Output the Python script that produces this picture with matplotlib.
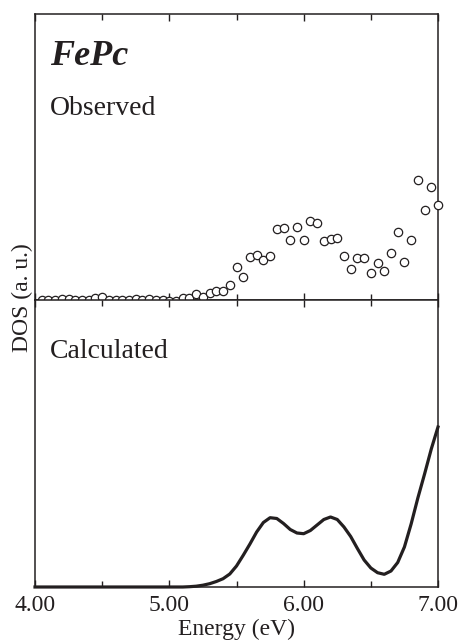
import matplotlib
matplotlib.use('Agg')
import matplotlib.pyplot as plt
import numpy as np
from matplotlib.ticker import MultipleLocator, FormatStrFormatter

plt.rcParams['font.family'] = 'Liberation Serif'

ink = '#231f20'

# observed DOS (open circles), 4.05 .. 7.00 eV in 0.05 eV steps
obs_energy = np.round(np.arange(4.05, 7.001, 0.05), 2)
obs_dos = [0.00, 0.00, 0.00, 0.01, 0.01, 0.00, 0.00, 0.00, 0.02, 0.03,
           0.00, 0.00, 0.00, 0.00, 0.01, 0.00, 0.01, 0.00, 0.00, -0.01,
           -0.01, 0.02, 0.02, 0.06, 0.03, 0.07, 0.09, 0.09, 0.15, 0.33,
           0.23, 0.43, 0.45, 0.40, 0.44, 0.71, 0.72, 0.60, 0.73, 0.60,
           0.79, 0.77, 0.59, 0.61, 0.62, 0.44, 0.31, 0.42, 0.42, 0.27,
           0.37, 0.29, 0.47, 0.68, 0.38, 0.60, 1.20, 0.90, 1.13, 0.95]

# calculated DOS (solid line), 4.00 .. 7.00 eV in 0.05 eV steps
calc_energy = np.round(np.arange(4.00, 7.001, 0.05), 2)
calc_dos = [0.0] * 23 + [0.003, 0.008, 0.018, 0.033, 0.055, 0.083, 0.13,
            0.21, 0.317, 0.43, 0.55, 0.645, 0.693, 0.685, 0.635, 0.575,
            0.54, 0.533, 0.565, 0.62, 0.675, 0.70, 0.675, 0.60, 0.505,
            0.385, 0.27, 0.19, 0.143, 0.127, 0.16, 0.245, 0.40, 0.63,
            0.89, 1.13, 1.38, 1.60]

fig = plt.figure(figsize=(4.6, 6.43), dpi=100)
ax1 = fig.add_axes([35/460, 1-300/643, 403/460, 286/643])
ax2 = fig.add_axes([35/460, 1-587/643, 403/460, 287/643])

ax1.plot(obs_energy, obs_dos, 'o', mfc='white', mec=ink, ms=6, mew=0.9,
         clip_on=False, zorder=5)
ax2.plot(calc_energy, calc_dos, '-', color=ink, lw=2.3, clip_on=False, zorder=5)

ax1.set_ylim(0, 2.86)
ax2.set_ylim(0, 2.87)

for ax in (ax1, ax2):
    ax.set_xlim(4.0, 7.0)
    ax.set_yticks([])
    ax.xaxis.set_major_locator(MultipleLocator(1.0))
    ax.xaxis.set_minor_locator(MultipleLocator(0.5))
    ax.xaxis.set_major_formatter(FormatStrFormatter('%.2f'))
    ax.tick_params(axis='x', which='both', direction='in', top=True, bottom=True,
                   color=ink, width=1, labelsize=17, labelcolor=ink, pad=6)
    ax.tick_params(axis='x', which='major', length=5)
    ax.tick_params(axis='x', which='minor', length=4)
    for s in ax.spines.values():
        s.set_color(ink)
        s.set_linewidth(1.1)

ax1.tick_params(axis='x', labelbottom=False)

ax1.text(15/403, 1-51/286, 'FePc', transform=ax1.transAxes, fontsize=26,
         fontweight='bold', fontstyle='italic', color=ink, va='baseline')
ax1.text(15/403, 1-101/286, 'Observed', transform=ax1.transAxes, fontsize=20,
         color=ink, va='baseline')
ax2.text(15/403, 1-58/287, 'Calculated', transform=ax2.transAxes, fontsize=20,
         color=ink, va='baseline')

ax2.set_xlabel('Energy (eV)', fontsize=17, color=ink, labelpad=2)
fig.text(22/460, 1-298/643, 'DOS (a. u.)', rotation=90, fontsize=17, color=ink,
         ha='center', va='center')

fig.savefig('out.png', dpi=100)
